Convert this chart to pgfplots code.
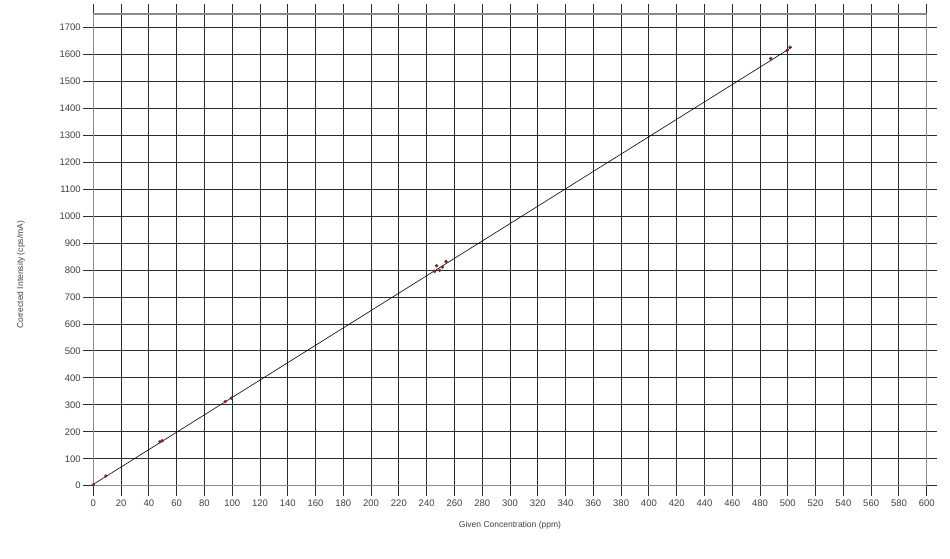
\documentclass[border=0pt]{standalone}
\usepackage{fontspec}
\setmainfont{Liberation Sans}
\usepackage{pgfplots}
\pgfplotsset{compat=1.18}

\definecolor{gridc}{HTML}{23302F}
\definecolor{boxc}{HTML}{8A8A8A}
\definecolor{markc}{HTML}{7A2626}

\begin{document}
\begin{tikzpicture}[x=1pt,y=1pt]
\begin{axis}[
    at={(93.3pt,72.3pt)}, anchor=south west,
    scale only axis,
    width=833.4pt, height=471.7pt,
    xmin=0, xmax=600,
    ymin=0, ymax=1750,
    xtick={0,20,...,600},
    ytick={0,100,...,1700},
    grid=major,
    grid style={gridc, line width=0.9pt},
    axis line style={boxc, line width=1.2pt},
    tick align=outside,
    major tick length=10pt,
    tick style={gridc, line width=0.9pt},
    /pgf/number format/assume math mode=true,
    /pgf/number format/1000 sep={},
    tick label style={font=\fontsize{9.5}{11}\selectfont, text=black!75},
    xticklabel style={yshift=-1pt},
    yticklabel style={xshift=1pt},
    xlabel={Given Concentration (ppm)},
    ylabel={Corrected Intensity (cps/mA)},
    label style={font=\fontsize{8.5}{10}\selectfont, text=black!75},
    xlabel style={at={(axis description cs:0.5,0)}, anchor=center, yshift=-39.3pt},
    ylabel style={at={(axis description cs:-0.0868,0.447)}, anchor=center},
    clip=false,
]
% fitted calibration line
\addplot[black, line width=0.6pt] coordinates {(0,5) (503,1627)};
% measured standards
\addplot[only marks, mark=*, mark size=1.5pt, markc] coordinates {
    (0,3)
    (9.1,36)
    (48,163)
    (49.7,167)
    (95,312)
    (99.3,325)
    (245.7,795)
    (247.2,816)
    (249.3,799)
    (251.3,811)
    (253.9,832)
    (487.7,1585)
    (499.5,1615)
    (501.6,1627)
};
\end{axis}
\pgfresetboundingbox
\useasboundingbox (0pt,0pt) rectangle (950pt,558pt);
\end{tikzpicture}
\end{document}
